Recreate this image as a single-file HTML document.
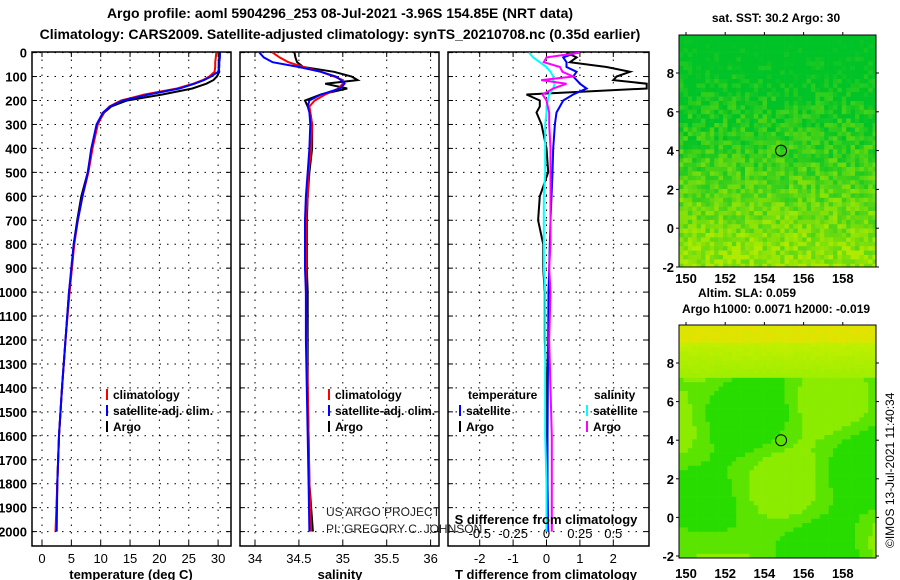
<!DOCTYPE html>
<html><head><meta charset="utf-8"><style>
body{margin:0;background:#fff;}
svg{display:block;font-family:"Liberation Sans",sans-serif;font-weight:bold;}
</style></head><body>
<svg id="c" width="900" height="580" xmlns="http://www.w3.org/2000/svg">
<text x="340" y="18" font-size="14" text-anchor="middle">Argo profile: aoml 5904296_253 08-Jul-2021 -3.96S 154.85E (NRT data)</text>
<text x="340" y="39" font-size="14" text-anchor="middle">Climatology: CARS2009. Satellite-adjusted climatology: synTS_20210708.nc (0.35d earlier)</text>
<g id="g"></g>
</svg>
<script>
const depthTicks=[0,100,200,300,400,500,600,700,800,900,1000,1100,1200,1300,1400,1500,1600,1700,1800,1900,2000];
const depths=[0,20,40,60,80,100,115,130,150,175,200,225,250,300,400,500,600,700,800,900,1000,1200,1400,1600,1800,2000];
const tArgo=[30.3,30.2,30.1,30.1,30.2,29.8,29.2,28.0,25.6,20.5,14.5,11.8,10.6,9.4,8.5,7.8,6.7,6.0,5.4,5.1,4.6,4.0,3.4,2.9,2.6,2.4];
const tClim=[29.7,29.6,29.5,29.5,29.4,28.5,27.4,25.8,23.0,17.5,13.5,11.5,10.5,9.5,8.6,7.9,6.9,6.1,5.5,5.1,4.7,4.0,3.4,2.9,2.6,2.3];
const tSat=[30.3,30.3,30.2,30.2,30.0,28.8,27.6,26.0,23.4,18.2,13.8,11.6,10.4,9.3,8.4,7.8,6.9,6.1,5.4,5.0,4.6,4.0,3.4,2.9,2.6,2.5];
const sArgo=[34.45,34.46,34.48,34.55,34.9,35.1,35.17,34.8,35.05,34.75,34.57,34.6,34.63,34.65,34.65,34.62,34.6,34.59,34.59,34.59,34.6,34.6,34.6,34.61,34.62,34.66];
const sClim=[34.2,34.28,34.38,34.55,34.75,34.9,35.0,35.0,34.95,34.8,34.68,34.62,34.63,34.65,34.64,34.61,34.6,34.58,34.58,34.58,34.58,34.59,34.6,34.61,34.62,34.64];
const sSat=[34.05,34.1,34.2,34.5,34.75,34.92,34.98,35.02,34.97,34.75,34.62,34.6,34.62,34.63,34.62,34.6,34.58,34.57,34.57,34.57,34.58,34.58,34.59,34.6,34.61,34.62];
const tDiffArgo=[0.6,0.9,0.7,1.8,2.5,2.1,2.0,3.0,3.0,-0.6,-0.2,-0.2,-0.3,-0.15,0.0,0.05,-0.2,-0.25,-0.1,-0.1,-0.05,-0.05,0.0,0.0,0.0,0.0];
const tDiffSat=[0.9,0.5,0.6,0.6,0.9,0.8,0.9,1.0,1.2,0.8,0.5,0.4,0.3,0.25,0.2,0.18,0.15,0.12,0.1,0.08,0.06,0.05,0.04,0.03,0.03,0.05];
const sDiffArgo=[0.25,0.0,-0.02,0.1,0.12,0.2,-0.04,0.15,0.05,-0.03,0.0,0.01,0.02,0.02,0.03,0.03,0.03,0.03,0.03,0.02,0.03,0.02,0.03,0.04,0.04,0.04];
const sDiffSat=[-0.13,-0.1,-0.05,0.0,0.03,0.05,0.05,0.06,0.05,0.02,0.01,0.0,0.0,-0.01,-0.01,-0.01,-0.02,-0.02,-0.02,-0.02,-0.01,-0.01,-0.01,-0.01,0.0,0.0];
const tempTicks=[0,5,10,15,20,25,30];
const salTicks=[34,34.5,35,35.5,36];
const tdTicks=[-2,-1,0,1,2];
const sdTicks=[-0.5,-0.25,0,0.25,0.5];

const NS='http://www.w3.org/2000/svg';
const G=document.getElementById('g');
function mk(t,a,p){const e=document.createElementNS(NS,t);for(const k in a)e.setAttribute(k,a[k]);(p||G).appendChild(e);return e;}
const yD=d=>52.6+d*0.2395;
const xT=t=>42+t*5.87;
const xS=s=>255+(s-34)*87.8;
const xTD=v=>546.5+v*33.4;
const xSD=v=>546.5+v*133.5;
const TOP=52,BOT=546;
const panels=[{l:32,r:231},{l:240,r:439},{l:448,r:649}];
panels.forEach((p,i)=>{
  const clip=mk('clipPath',{id:'cp'+i});mk('rect',{x:p.l,y:TOP,width:p.r-p.l,height:BOT-TOP},clip);
  const fr=mk('rect',{x:p.l,y:TOP,width:p.r-p.l,height:BOT-TOP,fill:'#fff',stroke:'#000','stroke-width':1.5});
  
  
  depthTicks.forEach(d=>{
    const ln=mk('line',{x1:p.l,x2:p.r,y1:yD(d),y2:yD(d),stroke:'#000','stroke-dasharray':'1.5 6'});
    
    
    mk('line',{x1:p.l,x2:p.l+5,y1:yD(d),y2:yD(d),stroke:'#000'});
    mk('line',{x1:p.r-5,x2:p.r,y1:yD(d),y2:yD(d),stroke:'#000'});
  });
});
depthTicks.forEach(d=>{const t=mk('text',{x:27,y:yD(d)+5,'font-size':13,'text-anchor':'end'});t.textContent=d;
  
  });
function xgrid(ticks,fx,p,fmt,ly){ticks.forEach(v=>{const x=fx(v);
  const ln=mk('line',{x1:x,x2:x,y1:TOP,y2:BOT,stroke:'#000','stroke-dasharray':'1.5 6'});
  
  
  mk('line',{x1:x,x2:x,y1:TOP,y2:TOP+5,stroke:'#000'});mk('line',{x1:x,x2:x,y1:BOT-5,y2:BOT,stroke:'#000'});
  const t=mk('text',{x:x,y:ly,'font-size':13,'text-anchor':'middle','font-weight':'normal'});t.textContent=fmt?fmt(v):v;
  
  });}
xgrid(tempTicks,xT,panels[0],null,563);
xgrid(salTicks,xS,panels[1],null,563);
xgrid(tdTicks,xTD,panels[2],null,563);
sdTicks.forEach(v=>{const t=mk('text',{x:xSD(v),y:538,'font-size':13,'text-anchor':'middle','font-weight':'normal'});t.textContent=v;
  
  });
function line(vals,fx,col,i,name){const pts=vals.map((v,k)=>fx(v).toFixed(1)+','+yD(depths[k]).toFixed(1)).join(' ');
  const e=mk('polyline',{points:pts,fill:'none',stroke:col,'stroke-width':2,'clip-path':'url(#cp'+i+')'});
  
  }
line(tArgo,xT,'#000',0,'temp-argo-line');line(tClim,xT,'#f00',0,'temp-clim-line');line(tSat,xT,'#00f',0,'temp-sat-line');
line(sArgo,xS,'#000',1,'sal-argo-line');line(sClim,xS,'#f00',1,'sal-clim-line');line(sSat,xS,'#00f',1,'sal-sat-line');
line(tDiffArgo,xTD,'#000',2,'tdiff-argo-line');line(tDiffSat,xTD,'#00f',2,'tdiff-sat-line');
line(sDiffSat,xSD,'#0ff',2,'sdiff-sat-line');line(sDiffArgo,xSD,'#f0f',2,'sdiff-argo-line');
[['temperature (deg C)',131],['salinity',340],['T difference from climatology',546]].forEach(([s,x])=>{
  const t=mk('text',{x:x,y:579,'font-size':13,'text-anchor':'middle'});t.textContent=s;
  
  });
const st=mk('text',{x:546,y:524,'font-size':13,'text-anchor':'middle'});st.textContent='S difference from climatology';


function leg(x,y,col,s,name){mk('line',{x1:x,x2:x,y1:y-10,y2:y+1,stroke:col,'stroke-width':2});
  const t=mk('text',{x:x+6,y:y,'font-size':12});t.textContent=s;
  
  }
[107,329].forEach((x,i)=>{leg(x,399,'#f00','climatology','legend-climatology');leg(x,415,'#00f','satellite-adj. clim.','legend-satellite');leg(x,431,'#000','Argo','legend-argo');});
let t1=mk('text',{x:468,y:399,'font-size':12});t1.textContent='temperature';

let t2=mk('text',{x:594,y:399,'font-size':12});t2.textContent='salinity';

leg(460,415,'#00f','satellite','legend-t-satellite');leg(460,431,'#000','Argo','legend-t-argo');
leg(587,415,'#0ff','satellite','legend-s-satellite');leg(587,431,'#f0f','Argo','legend-s-argo');
[['US ARGO PROJECT',516],['PI: GREGORY C. JOHNSON',533]].forEach(([s,y])=>{const t=mk('text',{x:326,y:y,'font-size':12,'font-weight':'normal',fill:'#222'});t.textContent=s;
  });

// maps (image texture, not chart data)
function hsh(a,b){let h=(a*374761393+b*668265263)^0x5bd1e995;h=Math.imul(h^(h>>>13),1274126177);return ((h^(h>>>16))>>>0)/4294967296;}
function mix(a,b,t){t=Math.max(0,Math.min(1,t));return `rgb(${(a[0]+(b[0]-a[0])*t)|0},${(a[1]+(b[1]-a[1])*t)|0},${(a[2]+(b[2]-a[2])*t)|0})`;}
function map(y0,y1,lat8,perDeg,lonY,fn,name,cs){
  const x0=679,x1=876;
  const g=mk('g',{});
  for(let yy=y0;yy<y1;yy+=cs)for(let xx=x0;xx<x1;xx+=cs){
    const f=(yy-y0)/(y1-y0),xf=(xx-x0)/(x1-x0);
    mk('rect',{x:xx,y:yy,width:Math.min(cs,x1-xx)+0.3,height:Math.min(cs,y1-yy)+0.3,fill:fn(f,hsh(Math.round(xx*7),Math.round(yy*7)),xf)},g);}
  mk('rect',{x:x0,y:y0,width:x1-x0,height:y1-y0,fill:'none',stroke:'#000'},g);
  [150,152,154,156,158].forEach(lo=>{const x=686+(lo-150)*19.6;mk('line',{x1:x,x2:x,y1:y0-3,y2:y0,stroke:'#000'});
    const t=mk('text',{x:x,y:lonY,'font-size':13,'text-anchor':'middle'});t.textContent=lo;
    });
  [8,6,4,2,0,-2].forEach(la=>{const y=lat8+(8-la)*perDeg;mk('line',{x1:x0-3,x2:x0,y1:y,y2:y,stroke:'#000'});mk('line',{x1:x1,x2:x1+3,y1:y,y2:y,stroke:'#000'});
    const t=mk('text',{x:x0-5,y:y+5,'font-size':13,'text-anchor':'end'});t.textContent=la;
    });
  mk('circle',{cx:686+4.85*19.6,cy:lat8+4*perDeg,r:5.5,fill:'none',stroke:'#000'},g);
}
const G1=[0,195,40],Y1=[175,235,0];
map(35,267,73,19.4,283,(f,r)=>mix(G1,Y1,(f-0.2)*1.1+(r-0.5)*0.55),'sst-map',4.4);
const B=[[40,220,0],[90,228,0],[140,236,0]];
map(325,558,363,19.3,578,(f,r,xf)=>{
  if(f<0.06) return mix([230,225,0],[215,232,0],r);
  if(f<0.22) return mix([200,240,0],[160,238,0],(f-0.06)*6+r*0.2);
  const v=Math.sin(xf*9+f*4)+Math.cos(f*13-xf*5)+Math.sin((xf+f)*7);
  const c=v>0.9?B[2]:(v>-0.4?B[1]:B[0]);return `rgb(${c[0]},${c[1]},${c[2]})`;},'sla-map',4.4);
[['sat. SST: 30.2 Argo: 30',776,22],['Altim. SLA: 0.059',747,297],['Argo h1000: 0.0071 h2000: -0.019',776,313]].forEach(([s,x,y])=>{
  const t=mk('text',{x:x,y:y,'font-size':12,'text-anchor':'middle'});t.textContent=s;
  });
const cr=mk('text',{x:0,y:0,'font-size':12,'font-weight':'normal',transform:'translate(894,548) rotate(-90)'});cr.textContent='©IMOS 13-Jul-2021 11:40:34';

</script>
</body></html>
